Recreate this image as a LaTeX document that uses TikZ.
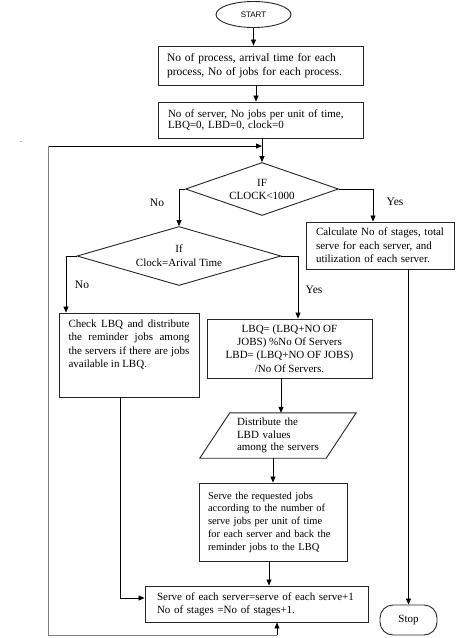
\documentclass[tikz,border=0pt]{standalone}
\usepackage{fontspec}
\setmainfont{Liberation Serif}
\setsansfont{Liberation Sans}
\usetikzlibrary{shapes.geometric,arrows.meta}
\begin{document}
\begin{tikzpicture}[x=1pt,y=-1pt,
  every node/.style={font=\fontsize{11}{13}\selectfont},
  box/.style={draw=black!85, line width=0.9pt, rectangle, inner sep=0pt},
  outl/.style={draw=black!85, line width=0.9pt},
  dia/.style={draw=black!85, line width=0.9pt, diamond, inner sep=0pt},
  arr/.style={line width=0.8pt, -{Triangle[length=6pt,width=5pt]}},
  conn/.style={line width=0.8pt},
  lbl/.style={font=\fontsize{11.5}{13}\selectfont}
]
\useasboundingbox (0,0) rectangle (474,638);

\node[draw=black!85, ellipse, line width=0.9pt, minimum width=75pt, minimum height=26pt, inner sep=0pt, font=\sffamily\fontsize{8}{9}\selectfont] (start) at (253.5,14.5) {START};

\node[box, minimum width=205pt, minimum height=39pt, text width=187pt, align=left, font=\fontsize{11.5}{14}\selectfont] (b1) at (260.5,65.5) {\makebox[187pt][s]{No of process, arrival time for each}\\process, No of jobs for each process.};

\node[box, minimum width=205pt, minimum height=36pt, text width=185pt, align=left, font=\fontsize{11}{11.5}\selectfont] (b2) at (260.5,120) {No of server, No jobs per unit of time,\\LBQ=0, LBD=0, clock=0};

\node[dia, minimum width=153pt, minimum height=53pt, aspect=2.9, align=center, font=\fontsize{11}{13}\selectfont] (d1) at (262,189) {IF\\CLOCK<1000};

\node[dia, minimum width=204pt, minimum height=59pt, aspect=3.46, align=center, font=\fontsize{11}{14}\selectfont] (d2) at (179,256) {If\\Clock=Arival Time};

\node[box, minimum width=148pt, minimum height=47pt, text width=128pt, align=left, font=\fontsize{11}{13.5}\selectfont] (calc) at (380,245.5) {Calculate No of stages, total\\serve for each server, and\\utilization of each server.};

\node[box, minimum width=140pt, minimum height=84pt] (check) at (129,355) {\parbox[c][70pt][t]{121pt}{\fontsize{11}{13.3}\selectfont\makebox[121pt][s]{Check LBQ and distribute}\\\makebox[121pt][s]{the reminder jobs among}\\\makebox[121pt][s]{the servers if there are jobs}\\available in LBQ.}};

\node[box, minimum width=165pt, minimum height=59pt, align=center, font=\fontsize{11}{13.3}\selectfont] (lbq) at (289.5,348.5) {LBQ= (LBQ+NO OF\\JOBS) \%No Of Servers\\LBD= (LBQ+NO OF JOBS)\\/No Of Servers.};

\node[inner sep=0pt, minimum width=126pt, minimum height=45pt, text width=82pt, align=left, font=\fontsize{11}{12.5}\selectfont] (para) at (278,435.5) {Distribute the\\LBD values\\among the servers};
\draw[outl] ([xshift=15pt]para.north west) -- ([xshift=15pt]para.north east) -- ([xshift=-15pt]para.south east) -- ([xshift=-15pt]para.south west) -- cycle;

\node[box, minimum width=148pt, minimum height=78pt, text width=130pt, align=left, font=\fontsize{10.5}{12.75}\selectfont] (serve) at (273,522) {Serve the requested jobs\\according to the number of\\serve jobs per unit of time\\for each server and back the\\reminder jobs to the LBQ};

\node[box, minimum width=223pt, minimum height=36pt, text width=199pt, align=left, font=\fontsize{11}{13}\selectfont] (upd) at (256.5,604) {Serve of each server=serve of each serve+1\\No of stages =No of stages+1.};

\node[draw=black!85, line width=0.9pt, rounded corners=13pt, minimum width=57pt, minimum height=30pt, inner sep=0pt] (stop) at (408.5,620) {Stop};

% connectors
\draw[arr] (start) -- (start |- b1.north);
\draw[arr] ([xshift=-4.5pt]b1.south) -- ([xshift=-4.5pt]b1.south |- b2.north);
\draw[arr] (b2.south -| d1.north) -- (d1.north);

\coordinate (join) at (262,146);
\coordinate (loopT) at (48,146);
\coordinate (loopB) at (48,635);
\coordinate (loopC) at (277,635);
\draw[arr] (loopT) -- (join);
\draw[conn, black!50] (loopC) -- (loopB) -- (loopT);
\draw[arr] (loopC) -- (loopC |- upd.south);

\draw[arr] (d1.west) -| (d2.north);
\draw[arr] (d1.east) -| ([xshift=-7pt]calc.north);
\draw[arr] (d2.west) -| ([xshift=-63pt]check.north);
\draw[arr] (d2.east) -| ([xshift=8.5pt]lbq.north);
\draw[arr] ([xshift=-8.5pt]lbq.south) -- ([xshift=-8.5pt]lbq.south |- para.north);
\draw[arr] (serve.north |- para.south) -- (serve.north);
\draw[arr] ([xshift=-4pt]serve.south) -- ([xshift=-4pt]serve.south |- upd.north);
\draw[arr] ([xshift=-9pt]check.south) |- ([yshift=6pt]upd.west);
\draw[arr] (stop.north |- calc.south) -- (stop.north);

\node[lbl] (no1) at (157,203) {No};
\node[lbl] (yes1) at (395,202) {Yes};
\node[lbl] (no2) at (82,285) {No};
\node[lbl] (yes2) at (314,290) {Yes};
\node[font=\fontsize{8}{9}\selectfont, inner sep=0pt] (dot) at (21,142) {.};
\end{tikzpicture}
\end{document}
